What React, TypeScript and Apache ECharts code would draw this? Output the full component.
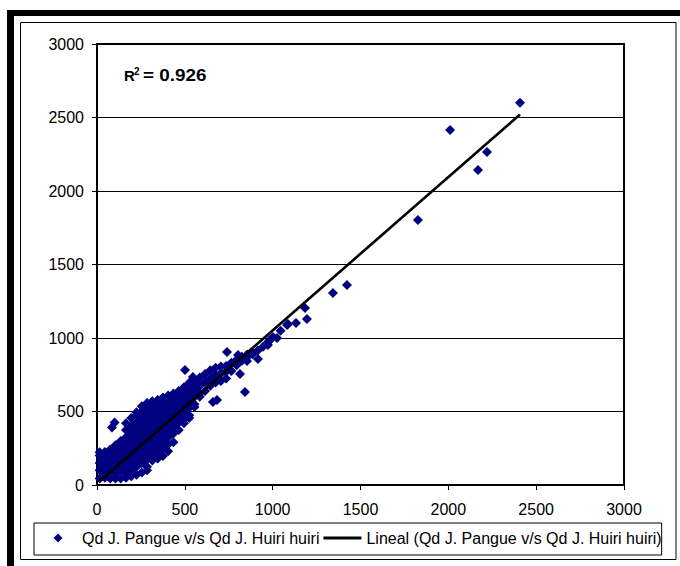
import React, { useEffect, useRef } from "react";
import * as echarts from "echarts";

const FONT = "'Liberation Sans', Arial, Helvetica, sans-serif";

const axisMin = 0;
const axisMax = 3000;
const axisStep = 500;

const seriesName = "Qd J. Pangue v/s Qd J. Huiri huiri";
const trendName = "Lineal (Qd J. Pangue v/s Qd J. Huiri huiri)";
const r2Label = "= 0.926";

// dense cloud near the origin, read column by column (x, then the y values seen in that column)
const clusterX = [15, 45, 75, 105, 135, 165, 195, 225, 255, 285, 315, 345, 375, 405, 435, 465, 495, 525, 555, 585, 615, 645, 675, 705, 735, 765, 795, 825, 855, 885, 915, 945, 975];
const clusterY = [
  [45, 100, 150, 200, 222],
  [50, 75, 125, 175, 225],
  [45, 100, 150, 200, 242],
  [45, 75, 125, 175, 225, 270],
  [45, 100, 150, 200, 250, 300],
  [50, 75, 125, 175, 225, 275, 325, 375, 420],
  [60, 100, 150, 200, 250, 300, 350, 400, 455],
  [70, 125, 175, 225, 275, 325, 375, 425, 475, 495],
  [85, 150, 200, 250, 300, 350, 400, 450, 500, 535],
  [100, 125, 175, 225, 275, 325, 375, 425, 475, 525, 557],
  [166, 200, 250, 300, 350, 400, 450, 500, 550, 570],
  [180, 225, 275, 325, 375, 425, 475, 525, 578],
  [198, 250, 300, 350, 400, 450, 500, 550, 595],
  [230, 275, 325, 375, 425, 475, 525, 575, 608],
  [290, 350, 400, 450, 500, 550, 600, 622],
  [375, 425, 475, 525, 575, 625, 640],
  [420, 450, 500, 550, 600, 650, 665],
  [455, 475, 525, 575, 625, 675, 695],
  [530, 550, 600, 650, 700, 712],
  [600, 625, 675, 732],
  [640, 700, 755],
  [675, 725, 780],
  [698, 750, 797],
  [708, 760, 806],
  [725, 770, 810],
  [775, 832],
  [815, 852],
  [845, 872],
  [870, 888],
  [890, 903],
  [915],
  [940],
  [975],
];

// scattered points outside the cloud
const outlierX = [2408, 2010, 2220, 2169, 1827, 1087, 1133, 1184, 1195, 1343, 1423, 1002, 1082, 985, 973, 1025, 1045, 740, 501, 842, 814, 916, 854, 546, 803, 660, 683, 85, 100];
const outlierY = [2600, 2415, 2265, 2143, 1803, 1095, 1102, 1204, 1129, 1306, 1361, 1007, 1088, 986, 952, 1000, 1050, 905, 782, 633, 755, 857, 844, 735, 884, 565, 578, 392, 425];

// linear trend line end points
const trendX = [17, 2408];
const trendY = [27, 2520];

export default function App() {
  const ref = useRef<HTMLDivElement>(null);

  useEffect(() => {
    if (!ref.current) return;
    const chart = echarts.init(ref.current, undefined, { renderer: "svg" });

    const points: number[][] = [];
    clusterX.forEach((x, i) => {
      clusterY[i].forEach((y) => points.push([x, y]));
    });
    outlierX.forEach((x, i) => points.push([x, outlierY[i]]));

    const trend = trendX.map((x, i) => [x, trendY[i]]);

    const axisCommon = {
      type: "value" as const,
      min: axisMin,
      max: axisMax,
      interval: axisStep,
      axisLine: { show: true, lineStyle: { color: "#000", width: 2 } },
      axisTick: { show: true, length: 5, lineStyle: { color: "#000", width: 1 } },
    };
    const plain = (v: number) => String(v);

    chart.setOption({
      animation: false,
      backgroundColor: "#fff",
      textStyle: { fontFamily: FONT },
      grid: {
        left: 97,
        right: 56,
        top: 44,
        bottom: 81,
        show: true,
        borderColor: "#000",
        borderWidth: 2,
        backgroundColor: "transparent",
      },
      xAxis: {
        ...axisCommon,
        axisLabel: { color: "#000", fontSize: 16, fontFamily: FONT, margin: 16, formatter: plain },
        splitLine: { show: false },
      },
      yAxis: {
        ...axisCommon,
        axisLabel: { color: "#000", fontSize: 16, fontFamily: FONT, margin: 13, formatter: plain },
        splitLine: { show: true, lineStyle: { color: "#000", width: 1 } },
      },
      legend: {
        left: 34,
        top: 523,
        orient: "horizontal",
        padding: [7, 0, 9, 5],
        itemGap: 4,
        itemWidth: 38,
        itemHeight: 9,
        borderColor: "#000",
        borderWidth: 1,
        selectedMode: false,
        textStyle: { color: "#000", fontSize: 16, fontFamily: FONT },
        data: [
          {
            name: seriesName,
            icon: "path://M0,4.5L0,4.5M14.5,4.5L19,0L23.5,4.5L19,9ZM38,4.5L38,4.5",
            itemStyle: { color: "#000080", borderWidth: 0, opacity: 1 },
          },
          { name: trendName, icon: "path://M0,3H38V6H0Z", itemStyle: { color: "#000", borderWidth: 0 } },
        ],
      },
      series: [
        {
          type: "scatter",
          name: seriesName,
          symbol: "diamond",
          symbolSize: 10,
          itemStyle: { color: "#000080", opacity: 1 },
          data: points,
          silent: true,
        },
        {
          type: "line",
          name: trendName,
          data: trend,
          symbol: "none",
          lineStyle: { color: "#000", width: 2.6 },
          itemStyle: { color: "#000" },
          silent: true,
          z: 5,
        },
      ],
      graphic: [
        { type: "rect", silent: true, shape: { x: 7, y: 10, width: 673, height: 6 }, style: { fill: "#000" } },
        { type: "rect", silent: true, shape: { x: 7, y: 10, width: 7, height: 556 }, style: { fill: "#000" } },
        {
          type: "rect",
          silent: true,
          shape: { x: 20.5, y: 22.5, width: 655.5, height: 537 },
          style: { fill: "none", stroke: "#000", lineWidth: 1 },
        },
        {
          type: "text",
          silent: true,
          x: 124,
          y: 75.5,
          style: { text: "R", fontSize: 15, fontWeight: "bold", fontFamily: FONT, fill: "#000", verticalAlign: "middle" },
        },
        {
          type: "text",
          silent: true,
          x: 134,
          y: 71,
          style: { text: "2", fontSize: 10, fontWeight: "bold", fontFamily: FONT, fill: "#000", verticalAlign: "middle" },
        },
        {
          type: "text",
          silent: true,
          x: 143,
          y: 75.5,
          scaleX: 1.18,
          style: { text: r2Label, fontSize: 16, fontWeight: "bold", fontFamily: FONT, fill: "#000", verticalAlign: "middle" },
        },
      ],
    });

    return () => chart.dispose();
  }, []);

  return (
    <div
      ref={ref}
      style={{ position: "fixed", left: 0, top: 0, width: 680, height: 566, background: "#fff" }}
    />
  );
}
